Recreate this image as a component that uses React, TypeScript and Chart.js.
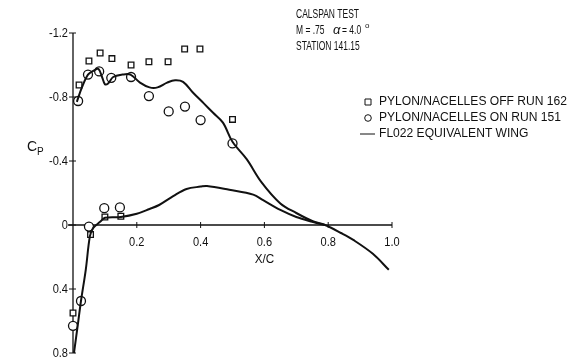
import React, { useEffect, useRef } from "react";
import { Chart, registerables } from "chart.js";
Chart.register(...registerables);

// Axis ticks
const yTicks = [-1.2, -0.8, -0.4, 0, 0.4, 0.8];
const yTickLabels = ["-1.2", "-0.8", "-0.4", "0", "0.4", "0.8"];
const xTicks = [0.2, 0.4, 0.6, 0.8, 1.0];
const xTickLabels = ["0.2", "0.4", "0.6", "0.8", "1.0"];

// PYLON/NACELLES OFF RUN 162 (squares)
const offX = [0.0, 0.055, 0.1, 0.15, 0.019, 0.05, 0.085, 0.122, 0.182, 0.238, 0.298, 0.35, 0.398, 0.5];
const offCp = [0.55, 0.06, -0.05, -0.055, -0.875, -1.025, -1.075, -1.04, -1.0, -1.02, -1.02, -1.1, -1.1, -0.66];

// PYLON/NACELLES ON RUN 151 (circles)
const onX = [0.0, 0.025, 0.05, 0.098, 0.147, 0.016, 0.047, 0.082, 0.12, 0.182, 0.238, 0.3, 0.351, 0.4, 0.5];
const onCp = [0.63, 0.475, 0.01, -0.105, -0.11, -0.775, -0.94, -0.96, -0.92, -0.925, -0.806, -0.71, -0.74, -0.656, -0.51];

// FL022 equivalent wing - upper surface (incl. trailing part)
const upperX = [0.012, 0.028, 0.047, 0.065, 0.08, 0.092, 0.1, 0.11, 0.126, 0.155, 0.18, 0.21, 0.24, 0.265, 0.295, 0.32, 0.345, 0.375, 0.41, 0.44, 0.47, 0.5, 0.545, 0.59, 0.65, 0.7, 0.75, 0.79, 0.84, 0.88, 0.94, 0.99];
const upperCp = [-0.77, -0.86, -0.94, -0.965, -0.975, -0.92, -0.88, -0.885, -0.925, -0.94, -0.94, -0.89, -0.86, -0.86, -0.89, -0.905, -0.895, -0.83, -0.76, -0.7, -0.64, -0.52, -0.41, -0.27, -0.135, -0.075, -0.025, 0.0, 0.05, 0.095, 0.18, 0.28];

// FL022 equivalent wing - lower surface
const lowerX = [0.003, 0.016, 0.025, 0.04, 0.053, 0.063, 0.085, 0.1, 0.15, 0.2, 0.24, 0.27, 0.314, 0.356, 0.4, 0.42, 0.49, 0.565, 0.596, 0.65, 0.7, 0.75, 0.79];
const lowerCp = [0.8, 0.61, 0.475, 0.28, 0.07, 0.02, -0.02, -0.045, -0.05, -0.07, -0.1, -0.125, -0.18, -0.225, -0.24, -0.244, -0.22, -0.19, -0.155, -0.094, -0.05, -0.02, 0.0];

const legendLabels = [
  "PYLON/NACELLES OFF RUN 162",
  "PYLON/NACELLES ON RUN 151",
  "FL022 EQUIVALENT WING",
];
const titleLines = ["CALSPAN TEST", "M = .75", "\u03b1", "= 4.0", "o", "STATION 141.15"];

const FONT = "'Liberation Sans', 'DejaVu Sans', sans-serif";

const toPts = (xs: number[], ys: number[]) => xs.map((x, i) => ({ x, y: ys[i] }));

const drawSquare = (ctx: CanvasRenderingContext2D, x: number, y: number, s: number) => {
  ctx.beginPath();
  ctx.rect(x - s, y - s, 2 * s, 2 * s);
  ctx.fillStyle = "#fff";
  ctx.fill();
  ctx.stroke();
};
const drawCircle = (ctx: CanvasRenderingContext2D, x: number, y: number, r: number) => {
  ctx.beginPath();
  ctx.arc(x, y, r, 0, Math.PI * 2);
  ctx.fillStyle = "#fff";
  ctx.fill();
  ctx.stroke();
};

const txt = (
  ctx: CanvasRenderingContext2D,
  s: string,
  x: number,
  y: number,
  size: number,
  sx: number,
  style = "",
  align: CanvasTextAlign = "left"
) => {
  ctx.save();
  ctx.translate(x, y);
  ctx.scale(sx, 1);
  ctx.font = `${style} ${size}px ${FONT}`;
  ctx.fillStyle = "#111";
  ctx.textAlign = align;
  ctx.textBaseline = "middle";
  ctx.fillText(s, 0, 0);
  ctx.restore();
};

const fitScale = (ctx: CanvasRenderingContext2D, s: string, size: number, target: number) => {
  ctx.save();
  ctx.font = `${size}px ${FONT}`;
  const w = ctx.measureText(s).width;
  ctx.restore();
  return target / w;
};

const axesPlugin = {
  id: "customAxes",
  beforeDatasetsDraw(chart: any) {
    const ctx: CanvasRenderingContext2D = chart.ctx;
    const xs = chart.scales.x;
    const ys = chart.scales.y;
    const x0 = xs.getPixelForValue(0);
    const y0 = ys.getPixelForValue(0);
    ctx.save();
    ctx.strokeStyle = "#111";
    ctx.fillStyle = "#111";
    ctx.lineWidth = 1.3;
    ctx.beginPath();
    ctx.moveTo(x0, ys.getPixelForValue(-1.2));
    ctx.lineTo(x0, ys.getPixelForValue(0.8));
    ctx.moveTo(x0 - 5, y0);
    ctx.lineTo(xs.getPixelForValue(1.0), y0);
    ctx.stroke();
    // ticks
    ctx.lineWidth = 1;
    ctx.beginPath();
    yTicks.forEach((v) => {
      const py = ys.getPixelForValue(v);
      ctx.moveTo(x0 - 4, py);
      ctx.lineTo(x0 + 3, py);
    });
    xTicks.forEach((v) => {
      const px = xs.getPixelForValue(v);
      ctx.moveTo(px, y0 - 3);
      ctx.lineTo(px, y0 + 3);
    });
    ctx.stroke();

    // tick labels (narrow lettering)
    yTicks.forEach((v, i) => {
      txt(ctx, yTickLabels[i], x0 - 5, ys.getPixelForValue(v), 13, 0.85, "", "right");
    });
    xTicks.forEach((v, i) => {
      txt(ctx, xTickLabels[i], xs.getPixelForValue(v), y0 + 17, 13, 0.85, "", "center");
    });
    txt(ctx, "X/C", xs.getPixelForValue(0.6), y0 + 34, 13, 0.9, "", "center");
    // Cp label
    txt(ctx, "C", 27, 147, 14, 1);
    txt(ctx, "P", 37, 152, 10, 1);

    // title block (narrow lettering)
    const tsz = 13;
    const tsx = fitScale(ctx, titleLines[0], tsz, 63);
    txt(ctx, titleLines[0], 296, 14, tsz, tsx);
    txt(ctx, titleLines[1], 296, 30, tsz, tsx);
    txt(ctx, titleLines[2], 333, 30, tsz, 1, "italic");
    txt(ctx, titleLines[3], 342, 30, tsz, tsx);
    txt(ctx, titleLines[4], 365, 26, 8, 1);
    txt(ctx, titleLines[5], 296, 46, tsz, tsx);

    // legend
    ctx.lineWidth = 1;
    ctx.strokeStyle = "#111";
    drawSquare(ctx, 368, 102, 3);
    drawCircle(ctx, 368, 118, 3.3);
    ctx.beginPath();
    ctx.moveTo(360, 134);
    ctx.lineTo(375, 134);
    ctx.stroke();
    const lsz = 12.5;
    const lsx = fitScale(ctx, legendLabels[0], lsz, 188);
    legendLabels.forEach((t, i) => txt(ctx, t, 379, 102 + 16 * i, lsz, lsx));
    ctx.restore();
  },
};

export default function App() {
  const ref = useRef<HTMLCanvasElement>(null);
  useEffect(() => {
    const chart = new Chart(ref.current as HTMLCanvasElement, {
      type: "scatter",
      data: {
        datasets: [
          {
            label: "FL022 upper",
            data: toPts(upperX, upperCp),
            showLine: true,
            borderColor: "#111",
            borderWidth: 2,
            pointRadius: 0,
            tension: 0.35,
          },
          {
            label: "FL022 lower",
            data: toPts(lowerX, lowerCp),
            showLine: true,
            borderColor: "#111",
            borderWidth: 2,
            pointRadius: 0,
            tension: 0.35,
          },
          {
            label: "OFF",
            data: toPts(offX, offCp),
            pointStyle: "rect",
            pointRadius: 4,
            pointBorderWidth: 1.3,
            pointBorderColor: "#111",
            pointBackgroundColor: "#fff",
          },
          {
            label: "ON",
            data: toPts(onX, onCp),
            pointStyle: "circle",
            pointRadius: 4.5,
            pointBorderWidth: 1.3,
            pointBorderColor: "#111",
            pointBackgroundColor: "#fff",
          },
        ],
      },
      options: {
        responsive: false,
        animation: false,
        clip: false as any,
        layout: { padding: { left: 73, right: 181, top: 33, bottom: 6 } },
        plugins: { legend: { display: false }, tooltip: { enabled: false } },
        scales: {
          x: { type: "linear", min: 0, max: 1.0, display: false },
          y: { type: "linear", min: -1.2, max: 0.8, reverse: true, display: false },
        },
      },
      plugins: [axesPlugin],
    });
    return () => chart.destroy();
  }, []);
  return (
    <div style={{ position: "fixed", left: 0, top: 0, width: 573, height: 359, background: "#fff" }}>
      <canvas ref={ref} width={573} height={359} />
    </div>
  );
}
